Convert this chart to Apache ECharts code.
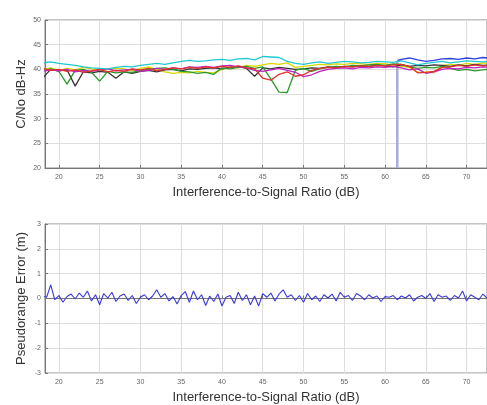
<!DOCTYPE html>
<html>
<head>
<meta charset="utf-8">
<script src="https://cdn.jsdelivr.net/npm/echarts@6/dist/echarts.min.js"></script>
<style>
  html, body { margin: 0; padding: 0; background: #fff; }
  #main { width: 487px; height: 405px; }
</style>
</head>
<body>
<div id="main"></div>
<script>
// interference-to-signal ratio (dB), shared by the C/No traces
const isr = [18,19,20,21,22,23,24,25,26,27,28,29,30,31,32,33,34,35,36,37,38,39,40,41,42,43,44,45,46,47,48,49,50,51,52,53,54,55,56,57,58,59,60,61,62,63,64,65,66,67,68,69,70,71,72,73]
const xTicks = [20, 25, 30, 35, 40, 45, 50, 55, 60, 65, 70]

// C/No per satellite (dB-Hz)
const cnoCyan = [41.3,41.5,41.2,41.0,40.8,40.5,40.3,40.2,40.1,40.4, 40.6,40.5,40.8,41.0,41.2,41.0,41.3,41.6,41.8,41.6, 41.7,41.9,42.0,41.8,42.1,42.2,41.9,42.6,42.5,42.4, 41.6,41.2,41.0,41.3,41.5,41.2,41.4,41.6,41.5,41.3, 41.4,41.6,41.5,41.4,41.7,41.3,40.9,41.2,41.4,41.6, 41.3,41.5,41.7,41.6,41.5,41.6]
const cnoRed = [40.2,39.8,40.0,39.6,39.9,39.4,39.7,40.0,39.5,39.8, 39.6,40.1,39.9,40.2,39.7,40.0,40.3,40.1,40.4,40.2, 40.5,40.3,40.6,40.4,40.7,40.3,40.1,38.2,37.8,39.0, 39.5,38.6,38.9,39.8,40.2,40.4,40.3,40.6,40.5,40.7, 40.6,40.8,40.7,40.9,41.0,40.6,39.3,39.4,39.6,40.4, 40.5,40.8,40.6,40.9,40.7,40.8]
const cnoGreen = [39.8,40.1,39.6,37.0,39.8,40.0,39.4,37.6,39.6,39.3, 39.5,39.4,39.8,40.0,40.2,40.3,40.0,39.6,39.5,39.2, 39.4,39.0,40.3,40.1,40.4,40.6,40.2,40.5,38.0,35.4, 35.3,39.8,40.2,39.6,40.1,40.4,40.6,40.5,40.8,40.7, 40.9,41.0,40.8,41.1,41.0,40.5,40.2,40.4,40.3,40.6, 40.2,39.8,40.0,39.7,39.9,40.1]
const cnoMagenta = [39.6,39.9,39.7,40.0,39.5,39.8,39.6,39.9,40.1,39.7, 39.9,40.0,39.6,39.8,40.2,40.0,40.3,40.1,40.5,40.4, 40.6,40.4,40.7,40.8,40.5,40.3,39.8,39.6,39.9,40.2, 39.8,39.4,38.5,38.9,39.6,40.0,40.2,40.3,40.1,40.4, 40.3,40.5,40.4,40.6,40.3,39.9,40.1,39.2,39.5,40.0, 40.2,40.1,40.4,40.3,40.5,40.4]
const cnoYellow = [40.0,40.3,39.8,40.2,39.9,40.4,40.1,39.7,40.0,40.2, 40.1,39.7,40.2,40.5,40.0,39.5,39.2,39.4,39.3,39.6, 39.4,39.3,40.0,40.5,40.3,40.8,40.6,40.9,41.2,41.0, 41.3,40.4,40.6,40.8,41.0,40.9,41.1,41.0,41.2,41.1, 41.0,41.2,41.1,40.9,40.6,40.4,39.4,39.5,39.3,40.8, 41.0,40.8,41.2,41.0,41.3,41.1]
const cnoBlack = [38.2,40.0,39.7,39.9,36.6,39.5,39.3,39.6,39.4,38.2, 39.5,39.2,39.6,39.8,39.5,39.9,40.0,39.7,40.1,40.0, 40.2,40.3,40.1,40.4,40.6,40.2,38.6,40.3,40.1,40.4, 40.2,40.0,40.1,40.3,40.2,40.5,40.4,40.6,40.5,40.7, 40.6,40.8,40.7,40.5,40.9,40.6,40.8,40.7,40.9,40.8, 40.6,40.9,40.7,41.0,40.8,40.9]
// blue satellite only acquired near 61.5 dB
const blueIsr = [61.5,62,63,64,65,66,67,68,69,70,71,72,73]
const cnoBlue = [41.8,42.0,42.3,41.9,41.6,41.8,42.1,42.2,42.0,42.3,42.1,42.4,42.2]
const dropIsr = [61.5, 61.5]
const dropCno = [20, 41.6]

// pseudorange error (m)
const errIsr = [18,18.5,19,19.5,20,20.5,21,21.5,22,22.5,23,23.5,24,24.5,25,25.5,26,26.5,27,27.5,28,28.5,29,29.5,30,30.5,31,31.5,32,32.5,33,33.5,34,34.5,35,35.5,36,36.5,37,37.5,38,38.5,39,39.5,40,40.5,41,41.5,42,42.5,43,43.5,44,44.5,45,45.5,46,46.5,47,47.5,48,48.5,49,49.5,50,50.5,51,51.5,52,52.5,53,53.5,54,54.5,55,55.5,56,56.5,57,57.5,58,58.5,59,59.5,60,60.5,61,61.5,62,62.5,63,63.5,64,64.5,65,65.5,66,66.5,67,67.5,68,68.5,69,69.5,70,70.5,71,71.5,72,72.5,73]
const errVal = [0.10,0.05,0.55,-0.05,0.12,-0.15,0.08,0.18,-0.02,0.22, 0.05,0.30,-0.10,0.15,-0.25,0.20,0.02,0.25,-0.12,0.10, 0.18,-0.08,0.12,-0.20,0.05,0.15,-0.05,0.10,0.35,0.05, 0.20,-0.10,0.08,-0.22,0.12,0.28,-0.15,0.30,-0.05,0.15, -0.28,0.10,-0.12,0.18,-0.30,0.05,0.12,-0.20,0.25,-0.08, 0.15,-0.25,0.10,-0.30,0.20,0.05,0.22,-0.10,0.18,0.35, 0.05,0.15,-0.08,0.12,-0.15,0.20,-0.05,0.10,-0.12,0.15, 0.02,0.18,-0.10,0.25,0.05,0.12,-0.08,0.20,0.10,-0.05, 0.15,0.02,0.10,-0.12,0.08,0.05,0.12,-0.05,0.10,0.02, 0.15,-0.10,0.05,0.12,0.00,0.20,-0.12,0.15,0.05,0.10, -0.08,0.12,0.02,0.30,-0.10,0.15,0.05,-0.05,0.18,0.02, 0.10]

const zip = (xs, ys) => xs.map((x, i) => [x, ys[i]])

const myChart = echarts.init(document.getElementById('main'))

const xAxisBase = (gridIndex) => ({
  type: 'value',
  gridIndex: gridIndex,
  min: 18.3,
  max: 72.5,
  name: 'Interference-to-Signal Ratio (dB)',
  nameLocation: 'middle',
  nameGap: 18,
  nameMoveOverlap: false,
  nameTextStyle: { color: '#333', fontSize: 13, fontFamily: 'Liberation Sans' },
  axisLine: { lineStyle: { color: '#777' } },
  axisTick: { inside: true, length: 3, lineStyle: { color: '#777' }, customValues: xTicks },
  axisLabel: { color: '#666', fontSize: 7, margin: 6, customValues: xTicks },
  splitLine: { show: true, lineStyle: { color: '#dedede' } }
})

const yAxisBase = (gridIndex, name, min, max, interval) => ({
  type: 'value',
  gridIndex: gridIndex,
  min: min,
  max: max,
  interval: interval,
  name: name,
  nameLocation: 'middle',
  nameGap: 17,
  nameMoveOverlap: false,
  nameTextStyle: { color: '#333', fontSize: 13, fontFamily: 'Liberation Sans' },
  axisLine: { show: true, lineStyle: { color: '#777' } },
  axisTick: { show: true, inside: true, length: 3, lineStyle: { color: '#777' } },
  axisLabel: { color: '#666', fontSize: 7, margin: 4 },
  splitLine: { show: true, lineStyle: { color: '#dedede' } }
})

const cnoLine = (data, color) => ({
  type: 'line',
  xAxisIndex: 0,
  yAxisIndex: 0,
  data: data,
  showSymbol: false,
  lineStyle: { color: color, width: 1.3 },
  z: 3
})

var option = {
  animation: false,
  grid: [
    { left: 45, top: 20, right: 0, height: 148, show: true, borderColor: '#888', borderWidth: 1 },
    { left: 45, top: 224, right: 0, height: 149, show: true, borderColor: '#888', borderWidth: 1 }
  ],
  xAxis: [xAxisBase(0), xAxisBase(1)],
  yAxis: [
    yAxisBase(0, 'C/No dB-Hz', 20, 50, 5),
    yAxisBase(1, 'Pseudorange Error (m)', -3, 3, 1)
  ],
  series: [
    cnoLine(zip(isr, cnoYellow), '#d8d800'),
    cnoLine(zip(isr, cnoBlack), '#333333'),
    cnoLine(zip(isr, cnoGreen), '#2a9a2a'),
    cnoLine(zip(isr, cnoMagenta), '#c020c0'),
    cnoLine(zip(isr, cnoRed), '#e03030'),
    cnoLine(zip(isr, cnoCyan), '#20c8d0'),
    cnoLine(zip(blueIsr, cnoBlue), '#3040e0'),
    {
      type: 'line',
      xAxisIndex: 0,
      yAxisIndex: 0,
      data: zip(dropIsr, dropCno),
      showSymbol: false,
      lineStyle: { color: '#a8acd8', width: 2.5 },
      z: 2
    },
    {
      type: 'line',
      xAxisIndex: 1,
      yAxisIndex: 1,
      data: zip(errIsr, errVal),
      showSymbol: false,
      lineStyle: { color: '#3a3ad8', width: 1.1 }
    }
  ]
}
option && myChart.setOption(option)
</script>
</body>
</html>
